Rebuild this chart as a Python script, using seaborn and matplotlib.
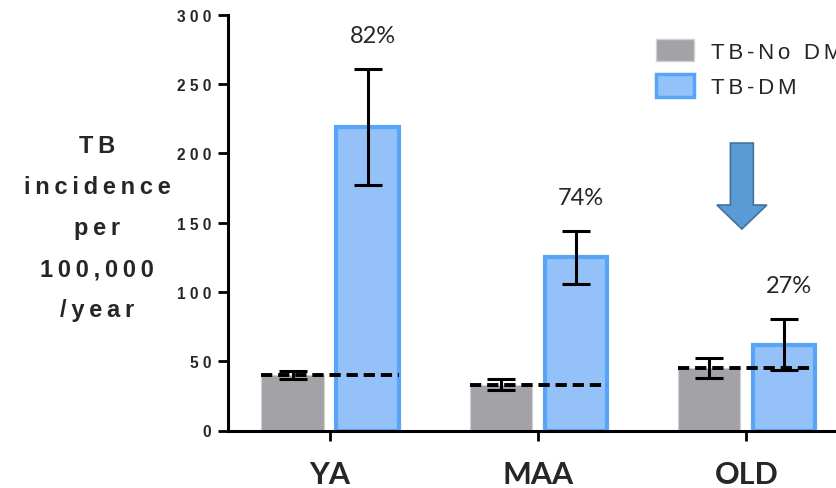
import matplotlib
matplotlib.use("Agg")
import matplotlib.pyplot as plt
import seaborn as sns
import pandas as pd
from matplotlib.patches import FancyArrow, Patch

# Age groups and TB incidence (per 100,000 / year) with and without diabetes
groups = ["YA", "MAA", "OLD"]
series = ["TB-No DM", "TB-DM"]
no_dm_values = [40, 33, 45]
no_dm_errors = [3, 4, 7]
dm_values = [219, 125, 62]
dm_errors = [42, 19, 18.5]
pct_labels = ["82%", "74%", "27%"]
y_ticks = [0, 50, 100, 150, 200, 250, 300]
y_label_lines = ["TB", "incidence", "per", "100,000", "/year"]

gray = "#A3A2A7"
blue_fill = "#93C1F8"
blue_edge = "#58A5F7"
arrow_fill = "#5B9BD5"
arrow_edge = "#41719C"


def spaced(text, sep):
    return sep.join(text)


df = pd.DataFrame({
    "group": groups * 2,
    "status": [series[0]] * len(groups) + [series[1]] * len(groups),
    "value": no_dm_values + dm_values,
})

sns.set_style("ticks")
plt.rcParams["font.family"] = ["Liberation Sans", "DejaVu Sans"]

fig = plt.figure(figsize=(8.36, 4.89), dpi=100)
ax = fig.add_axes([228 / 836, 57.5 / 489, 608 / 836, 416 / 489])

sns.barplot(data=df, x="group", y="value", hue="status", order=groups,
            hue_order=series, palette=[gray, blue_fill], saturation=1,
            width=0.72, gap=0.17, errorbar=None, legend=False, ax=ax)

no_bars = list(ax.containers[0])
dm_bars = list(ax.containers[1])
for p in no_bars:
    p.set_edgecolor("#D2D2D5")
    p.set_linewidth(0.8)
for p in dm_bars:
    p.set_edgecolor(blue_edge)
    p.set_linewidth(3)

# error bars at the bar centres
for bars, vals, errs in [(no_bars, no_dm_values, no_dm_errors),
                         (dm_bars, dm_values, dm_errors)]:
    xs = [p.get_x() + p.get_width() / 2 for p in bars]
    ax.errorbar(xs, vals, yerr=errs, fmt="none", ecolor="black",
                elinewidth=2.2, capsize=10, capthick=2.2, zorder=3)

# dashed reference line at the no-DM level across each group
for p0, p1, v in zip(no_bars, dm_bars, no_dm_values):
    ax.plot([p0.get_x(), p1.get_x() + p1.get_width()], [v, v], color="black",
            lw=2.8, ls=(0, (2.9, 1.5)), dash_capstyle="butt", zorder=4)

# percentage attributable to diabetes
for p, v, e, lab in zip(dm_bars, dm_values, dm_errors, pct_labels):
    ax.text(p.get_x() + p.get_width() / 2 + 0.025, v + e + 24, lab,
            ha="center", va="center", fontsize=17,
            fontfamily=["Lato", "DejaVu Sans"])

# downward arrow
ax.add_patch(FancyArrow(1.978, 207.3, 0, -62, width=0.11, head_width=0.24,
                        head_length=17.3, length_includes_head=True,
                        fc=arrow_fill, ec=arrow_edge, lw=1.2, zorder=5))

ax.set_xlim(-0.49, 2.43)
ax.set_ylim(0, 300)
ax.set_yticks(y_ticks)
ax.set_yticklabels([spaced(str(t), " ") for t in y_ticks],
                   fontweight="bold", fontsize=11.2)
ax.set_xticks(range(len(groups)))
ax.set_xticklabels(groups, fontsize=22, fontweight="bold",
                   fontfamily=["Lato", "DejaVu Sans"])
ax.tick_params(axis="both", direction="out", length=7, width=2, color="black")
ax.tick_params(axis="y", pad=5)
ax.tick_params(axis="x", pad=14)
for s in ["top", "right"]:
    ax.spines[s].set_visible(False)
for s in ["left", "bottom"]:
    ax.spines[s].set_linewidth(2.2)
    ax.spines[s].set_color("black")

ax.set_xlabel("")
ax.set_ylabel("\n".join(spaced(l, "\u2009") for l in y_label_lines),
              rotation=0, ha="center", va="center", fontsize=17,
              fontweight="bold", linespacing=2.0)
ax.yaxis.set_label_coords(-0.2155, 0.487)

handles = [Patch(facecolor=gray, edgecolor="#D0D0D3", linewidth=1),
           Patch(facecolor=blue_fill, edgecolor=blue_edge, linewidth=2.5)]
ax.legend(handles, [spaced(s, "\u200a\u200a") for s in series],
          loc="upper left", bbox_to_anchor=(656 / 836, 1 - 40 / 489),
          bbox_transform=fig.transFigure, frameon=False, fontsize=16,
          handlelength=1.71, handleheight=1.17, handletextpad=0.77,
          labelspacing=0.53, borderpad=0, borderaxespad=0)

fig.savefig("out.png", dpi=100)
